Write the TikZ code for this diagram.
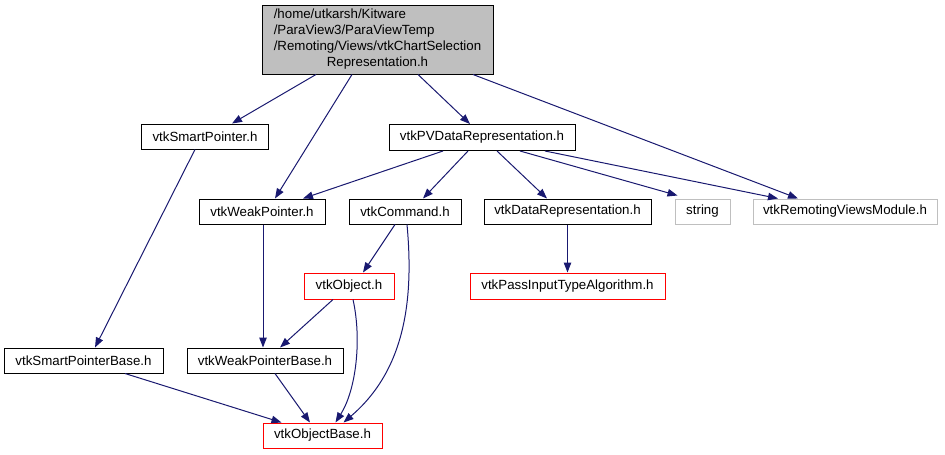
\documentclass[tikz,border=0pt]{standalone}
\usepackage{fontspec}
\setmainfont{Liberation Sans}
\usetikzlibrary{arrows.meta}
\definecolor{edgeblue}{HTML}{191970}
\definecolor{nodegrey}{HTML}{BFBFBF}
\begin{document}
\begin{tikzpicture}[x=1pt,y=-1pt,
  box/.style={draw=black,line width=1pt,rectangle,inner sep=0pt,minimum height=25pt,
    font=\fontsize{13.3}{15.3}\selectfont,align=center},
  redbox/.style={box,draw=red},
  greybox/.style={box,draw=nodegrey},
  edge/.style={draw=edgeblue,line width=1pt,-{Triangle[length=10pt,width=7.5pt]},fill=none},
]
\useasboundingbox (0,0) rectangle (945,455);
\node[box,fill=nodegrey,minimum width=231pt,minimum height=69pt] (root) at (377.5,39.5)
  {\renewcommand{\arraystretch}{1.05}\begin{tabular}{@{}l@{}}/home/utkarsh/Kitware\\/ParaView3/ParaViewTemp\\/Remoting/Views/vtkChartSelection\\\multicolumn{1}{@{}c@{}}{Representation.h}\end{tabular}};
\node[box,minimum width=127pt] (sp) at (205,136.5) {vtkSmartPointer.h};
\node[box,minimum width=186pt,minimum height=26pt] (pv) at (482,137.5) {vtkPVDataRepresentation.h};
\node[box,minimum width=126pt] (wp) at (262,211.5) {vtkWeakPointer.h};
\node[box,minimum width=112pt] (cmd) at (405,211.5) {vtkCommand.h};
\node[box,minimum width=167pt] (dr) at (567.5,211.5) {vtkDataRepresentation.h};
\node[greybox,minimum width=55pt] (str) at (702.5,211.5) {string};
\node[greybox,minimum width=184pt] (rvm) at (845,211.5) {vtkRemotingViewsModule.h};
\node[redbox,minimum width=195pt,minimum height=26pt] (pia) at (567.5,286) {vtkPassInputTypeAlgorithm.h};
\node[redbox,minimum width=90pt,minimum height=26pt] (obj) at (349,286) {vtkObject.h};
\node[box,minimum width=159pt] (spb) at (83.5,360.5) {vtkSmartPointerBase.h};
\node[box,minimum width=156pt] (wpb) at (265,360.5) {vtkWeakPointerBase.h};
\node[redbox,minimum width=119pt] (ob) at (322.5,435.5) {vtkObjectBase.h};

\draw[edge] ([xshift=-61.5pt]root.south) -- ([xshift=27pt]sp.north);
\draw[edge] ([xshift=-25.5pt]root.south) -- ([xshift=13pt]wp.north);
\draw[edge] ([xshift=40.5pt]root.south) -- ([xshift=-12pt]pv.north);
\draw[edge] ([xshift=95.5pt]root.south) -- ([xshift=-47pt]rvm.north);
\draw[edge] ([xshift=-39pt]pv.south) -- ([xshift=41pt]wp.north);
\draw[edge] ([xshift=-14pt]pv.south) -- ([xshift=18pt]cmd.north);
\draw[edge] ([xshift=15pt]pv.south) -- ([xshift=-20.5pt]dr.north);
\draw[edge] ([xshift=38pt]pv.south) -- ([xshift=3pt,yshift=3pt]str.north west);
\draw[edge] ([xshift=63pt]pv.south) -- ([xshift=-67pt]rvm.north);
\draw[edge] ([xshift=-10pt]sp.south) -- ([xshift=11.5pt]spb.north);
\draw[edge] ([xshift=1pt]wp.south) -- ([xshift=-2pt]wpb.north);
\draw[edge] (dr.south) -- (pia.north);
\draw[edge] ([xshift=-10pt]cmd.south) -- ([xshift=14pt]obj.north);
\draw[edge] ([xshift=2pt]cmd.south) .. controls (414,300) and (405,370) .. ([xshift=21pt]ob.north);
\draw[edge] ([xshift=-16pt]obj.south) -- ([xshift=15pt]wpb.north);
\draw[edge] ([xshift=4pt]obj.south) .. controls (362,340) and (356,390) .. ([xshift=13pt]ob.north);
\draw[edge] ([xshift=41.5pt]spb.south) -- ([xshift=-41pt]ob.north);
\draw[edge] ([xshift=10pt]wpb.south) -- ([xshift=-12.5pt]ob.north);
\end{tikzpicture}
\end{document}
